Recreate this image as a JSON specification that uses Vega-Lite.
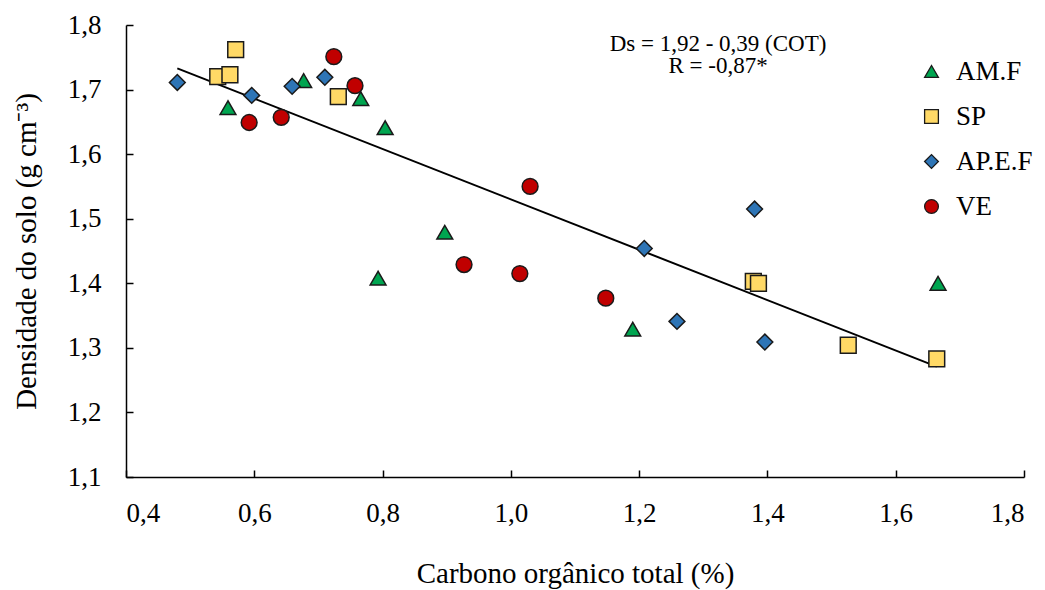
{
  "$schema": "https://vega.github.io/schema/vega-lite/v6.json",
  "autosize": "none",
  "width": 898,
  "height": 452,
  "padding": {"left": 126, "top": 25, "right": 21, "bottom": 113},
  "config": {
    "view": {"stroke": null},
    "font": "Liberation Serif",
    "axis": {
      "domainColor": "#000000",
      "domainWidth": 1.5,
      "tickColor": "#000000",
      "tickWidth": 1.5,
      "tickSize": -7,
      "grid": false,
      "labelFont": "Liberation Serif",
      "labelFontSize": 27,
      "labelColor": "#000000",
      "titleFont": "Liberation Serif",
      "titleFontSize": 29,
      "titleFontWeight": "normal",
      "titleColor": "#000000"
    },
    "legend": {"padding": 0}
  },
  "datasets": {
    "pts": [
      {"g": "AM.F", "cot": 0.559, "ds": 1.672},
      {"g": "AM.F", "cot": 0.677, "ds": 1.714},
      {"g": "AM.F", "cot": 0.766, "ds": 1.686},
      {"g": "AM.F", "cot": 0.804, "ds": 1.641},
      {"g": "AM.F", "cot": 0.897, "ds": 1.479},
      {"g": "AM.F", "cot": 0.793, "ds": 1.408},
      {"g": "AM.F", "cot": 1.19, "ds": 1.329},
      {"g": "AM.F", "cot": 1.666, "ds": 1.4},
      {"g": "SP", "cot": 0.571, "ds": 1.762},
      {"g": "SP", "cot": 0.543, "ds": 1.72},
      {"g": "SP", "cot": 0.562, "ds": 1.723},
      {"g": "SP", "cot": 0.731, "ds": 1.689},
      {"g": "SP", "cot": 1.378, "ds": 1.403},
      {"g": "SP", "cot": 1.386, "ds": 1.4},
      {"g": "SP", "cot": 1.526, "ds": 1.304},
      {"g": "SP", "cot": 1.664, "ds": 1.283},
      {"g": "AP.E.F", "cot": 0.48, "ds": 1.711},
      {"g": "AP.E.F", "cot": 0.596, "ds": 1.691},
      {"g": "AP.E.F", "cot": 0.659, "ds": 1.705},
      {"g": "AP.E.F", "cot": 0.71, "ds": 1.719},
      {"g": "AP.E.F", "cot": 1.208, "ds": 1.454},
      {"g": "AP.E.F", "cot": 1.38, "ds": 1.515},
      {"g": "AP.E.F", "cot": 1.259, "ds": 1.341},
      {"g": "AP.E.F", "cot": 1.396, "ds": 1.309},
      {"g": "VE", "cot": 0.592, "ds": 1.649},
      {"g": "VE", "cot": 0.642, "ds": 1.657},
      {"g": "VE", "cot": 0.724, "ds": 1.751},
      {"g": "VE", "cot": 0.757, "ds": 1.706},
      {"g": "VE", "cot": 1.03, "ds": 1.55},
      {"g": "VE", "cot": 0.927, "ds": 1.429},
      {"g": "VE", "cot": 1.014, "ds": 1.415},
      {"g": "VE", "cot": 1.148, "ds": 1.377}
    ],
    "fit": [
      {"cot": 0.48, "ds": 1.7328},
      {"cot": 1.664, "ds": 1.271}
    ],
    "ann": [
      {"cot": 1.323, "ds": 1.771, "t": "Ds = 1,92 - 0,39 (COT)"},
      {"cot": 1.323, "ds": 1.736, "t": "R = -0,87*"}
    ]
  },
  "layer": [
    {
      "data": {"name": "fit"},
      "mark": {"type": "line", "color": "#000000", "strokeWidth": 2},
      "encoding": {
        "x": {"field": "cot", "type": "quantitative", "scale": {"domain": [0.4, 1.8], "nice": false, "zero": false},
          "axis": {"title": "Carbono orgânico total (%)", "values": [0.4, 0.6, 0.8, 1.0, 1.2, 1.4, 1.6, 1.8], "labelExpr": "replace(format(datum.value, '.1f'), '.', ',')", "labelPadding": 30, "titlePadding": 33}},
        "y": {"field": "ds", "type": "quantitative", "scale": {"domain": [1.1, 1.8], "nice": false, "zero": false},
          "axis": {"title": "Densidade do solo (g cm⁻³)", "values": [1.1, 1.2, 1.3, 1.4, 1.5, 1.6, 1.7, 1.8], "labelExpr": "replace(format(datum.value, '.1f'), '.', ',')", "labelPadding": 32, "titlePadding": 26}}
      }
    },
    {
      "data": {"name": "pts"},
      "mark": {"type": "point", "filled": true, "strokeWidth": 1.5, "opacity": 1, "size": 250},
      "encoding": {
        "x": {"field": "cot", "type": "quantitative"},
        "y": {"field": "ds", "type": "quantitative"},
        "shape": {"field": "g", "type": "nominal",
          "scale": {"domain": ["AM.F", "SP", "AP.E.F", "VE"], "range": ["triangle-up", "square", "diamond", "circle"]},
          "legend": {"title": null, "orient": "none", "legendX": 792, "legendY": 33, "labelFontSize": 27, "labelFont": "Liberation Serif", "labelColor": "#000000", "symbolSize": 190, "symbolStrokeWidth": 1.3, "rowPadding": 17, "labelOffset": 11, "padding": 0}},
        "fill": {"field": "g", "type": "nominal",
          "scale": {"domain": ["AM.F", "SP", "AP.E.F", "VE"], "range": ["#00a550", "#ffd966", "#2e75b6", "#c00000"]}},
        "stroke": {"field": "g", "type": "nominal",
          "scale": {"domain": ["AM.F", "SP", "AP.E.F", "VE"], "range": ["#1a1a1a", "#1a1a1a", "#1a1a1a", "#1a1a1a"]}}
      }
    },
    {
      "data": {"name": "ann"},
      "mark": {"type": "text", "fontSize": 23, "font": "Liberation Serif", "color": "#000000", "align": "center", "baseline": "middle"},
      "encoding": {
        "x": {"field": "cot", "type": "quantitative"},
        "y": {"field": "ds", "type": "quantitative"},
        "text": {"field": "t"}
      }
    }
  ]
}
